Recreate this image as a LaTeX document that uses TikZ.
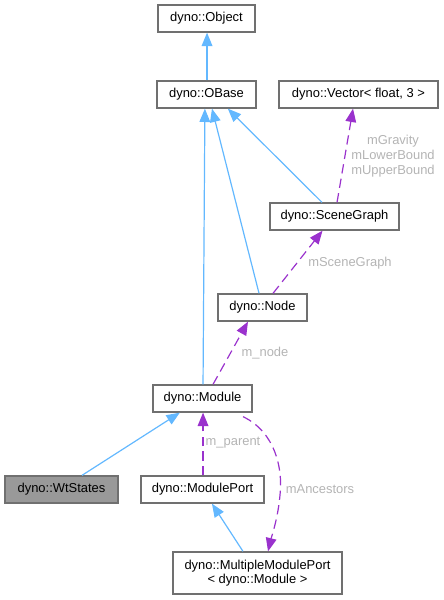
\documentclass[tikz,border=0pt]{standalone}
\usepackage{fontspec}
\setmainfont{Liberation Sans}
\usetikzlibrary{arrows.meta}
\definecolor{inhblue}{HTML}{63B8FF}
\definecolor{usepurple}{HTML}{9A32CD}
\definecolor{boxborder}{HTML}{707070}
\definecolor{lblgray}{HTML}{B4B4B4}
\definecolor{grayfill}{HTML}{999999}
\begin{document}
\begin{tikzpicture}[x=0.75pt,y=-0.75pt,
  font=\fontsize{9.7pt}{12pt}\selectfont,
  cls/.style={draw=boxborder,line width=1pt,fill=white,inner sep=0pt,minimum height=20.25pt,align=center},
  inh/.style={draw=inhblue,line width=0.9pt,-{Triangle[length=10pt,width=8pt,fill=inhblue]}},
  use/.style={draw=usepurple,line width=0.9pt,dash pattern=on 7pt off 4pt,-{Triangle[length=10pt,width=8pt,fill=usepurple]}},
  lbl/.style={text=lblgray,inner sep=0pt,align=center,font=\fontsize{9.7pt}{12pt}\selectfont}]
\useasboundingbox (0,0) rectangle (443,600);
\node[cls,minimum width=72.75pt] (object) at (206.5,18.5) {dyno::Object};
\node[cls,minimum width=74.25pt] (obase) at (206.5,94.5) {dyno::OBase};
\node[cls,minimum width=119.25pt] (vector) at (358.5,94.5) {dyno::Vector< float, 3 >};
\node[cls,minimum width=96.75pt] (sg) at (334.5,216.5) {dyno::SceneGraph};
\node[cls,minimum width=66.75pt] (node) at (262.5,307.5) {dyno::Node};
\node[cls,minimum width=74.25pt] (module) at (202.5,398.5) {dyno::Module};
\node[cls,minimum width=84.75pt,fill=grayfill] (wt) at (61.5,489.5) {dyno::WtStates};
\node[cls,minimum width=92.25pt] (mport) at (202.5,489.5) {dyno::ModulePort};
\node[cls,minimum width=126.75pt,minimum height=31.5pt] (mmp) at (257.5,573) {dyno::MultipleModulePort\\[-1pt]< dyno::Module >};

\draw[inh] ([xshift=0.4pt]obase.north) -- ([xshift=0.4pt]object.south);
\draw[inh] ([xshift=0.4pt]module.north) -- ([xshift=-1.2pt]obase.south);
\draw[inh] ([xshift=-2.6pt]node.north) -- ([xshift=4.1pt]obase.south);
\draw[inh] ([xshift=-9.4pt]sg.north) -- ([xshift=16pt]obase.south);
\draw[use] ([xshift=1.9pt]sg.north) -- ([xshift=-4.1pt]vector.south);
\draw[use] ([xshift=7.9pt]node.north) -- ([xshift=-9pt]sg.south);
\draw[use] ([xshift=7.9pt]module.north) -- ([xshift=-10.9pt]node.south);
\draw[inh] ([xshift=15.4pt]wt.north) -- ([xshift=-17pt]module.south);
\draw[use] ([xshift=0.4pt]mport.north) -- ([xshift=0.4pt]module.south);
\draw[use] ([xshift=30.4pt,yshift=-3pt]module.south) .. controls (275,432) and (283,468) .. (280,495) .. controls (278,518) and (272,535) .. ([xshift=7.9pt]mmp.north);
\draw[inh] ([xshift=-10.9pt]mmp.north) -- ([xshift=7.1pt]mport.south);

\node[lbl] (l1) at (393,156) {mGravity\\[-0.5pt]mLowerBound\\[-0.5pt]mUpperBound};
\node[lbl] (l2) at (350,263) {mSceneGraph};
\node[lbl] (l3) at (265,353) {m\_node};
\node[lbl] (l4) at (233,443) {m\_parent};
\node[lbl] (l5) at (320,489) {mAncestors};
\end{tikzpicture}
\end{document}
